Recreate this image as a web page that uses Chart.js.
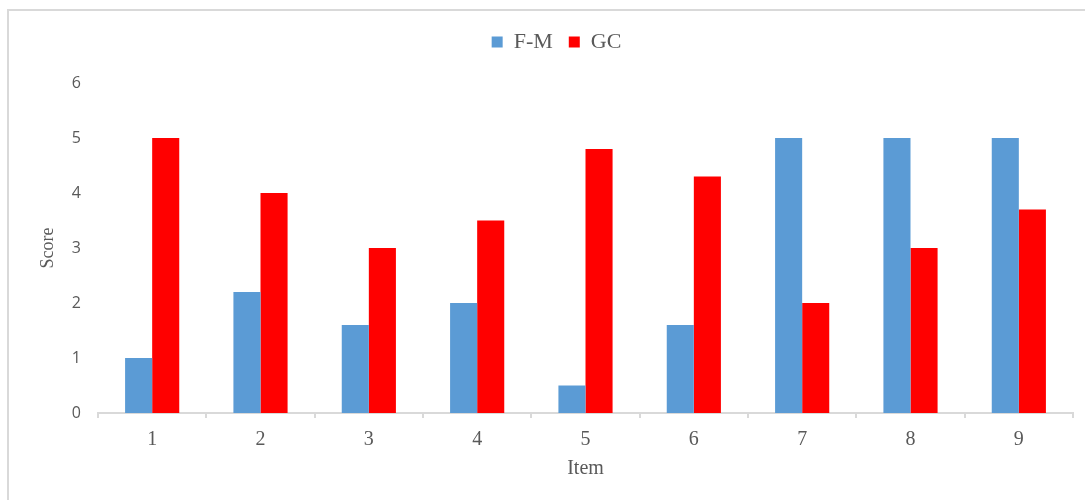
<!DOCTYPE html>
<html>
<head>
<meta charset="utf-8">
<script src="https://cdn.jsdelivr.net/npm/chart.js@4"></script>
<style>
  html, body { margin: 0; padding: 0; background: #fff; }
  #wrap { position: relative; width: 1085px; height: 500px; overflow: hidden; }
  #frame { position: absolute; left: 7px; top: 9px; width: 1100px; height: 520px;
           border: 2px solid #d9d9d9; box-sizing: border-box; pointer-events: none; }
  canvas { position: absolute; left: 0; top: 0; }
</style>
</head>
<body>
<div id="wrap">
  <div id="frame"></div>
  <canvas id="chart" width="1085" height="500"></canvas>
</div>
<script>
// Item scores for the two groups
const items = ['1', '2', '3', '4', '5', '6', '7', '8', '9'];
const fmScores = [1, 2.2, 1.6, 2, 0.5, 1.6, 5, 5, 5];
const gcScores = [5, 4, 3, 3.5, 4.8, 4.3, 2, 3, 3.7];
const yTicks = [0, 1, 2, 3, 4, 5, 6];

const serif = "'Liberation Serif', 'Times New Roman', serif";
const sans = "'Open Sans', 'Liberation Sans', sans-serif";
const textGray = '#595959';
const lineGray = '#d9d9d9';

// Extra room between the legend row and the plot, and a slight shift of the legend to the right
const legendPlacement = {
  id: 'legendPlacement',
  beforeInit(chart) {
    const fit = chart.legend.fit;
    chart.legend.fit = function () {
      fit.call(this);
      this.height += 20;
    };
  },
  afterLayout(chart) {
    chart.legend.left += 20;
    chart.legend.right += 20;
  }
};

new Chart(document.getElementById('chart'), {
  type: 'bar',
  data: {
    labels: items,
    datasets: [
      { label: 'F-M', data: fmScores, backgroundColor: '#5b9bd5', borderWidth: 0 },
      { label: 'GC', data: gcScores, backgroundColor: '#ff0000', borderWidth: 0 }
    ]
  },
  plugins: [legendPlacement],
  options: {
    responsive: false,
    animation: false,
    categoryPercentage: 0.5,
    barPercentage: 1,
    layout: { padding: { top: 15, right: 12, bottom: 0, left: 0 } },
    plugins: {
      tooltip: { enabled: false },
      legend: {
        position: 'top',
        labels: {
          boxWidth: 11,
          boxHeight: 11,
          color: textGray,
          font: { family: serif, size: 22 },
          padding: 16
        }
      }
    },
    scales: {
      x: {
        grid: { display: true, offset: true, drawOnChartArea: false, drawTicks: true,
                tickLength: 5, color: lineGray, lineWidth: 2 },
        border: { display: true, color: lineGray, width: 2 },
        ticks: { color: textGray, font: { family: serif, size: 20 }, padding: 10 },
        title: { display: true, text: 'Item', color: textGray,
                 font: { family: serif, size: 20 }, padding: { top: 0, bottom: 19 } },
        afterFit: s => { s.height = 87; }
      },
      y: {
        min: 0, max: 6,
        afterBuildTicks: s => { s.ticks = yTicks.map(v => ({ value: v })); },
        grid: { display: false, drawTicks: false },
        border: { display: false },
        ticks: { color: textGray, font: { family: sans, size: 16 }, padding: 17 },
        title: { display: true, text: 'Score', color: textGray,
                 font: { family: serif, size: 18 }, padding: { top: 37, bottom: 0 } },
        afterFit: s => { s.width = 98; }
      }
    }
  }
});
</script>
</body>
</html>
